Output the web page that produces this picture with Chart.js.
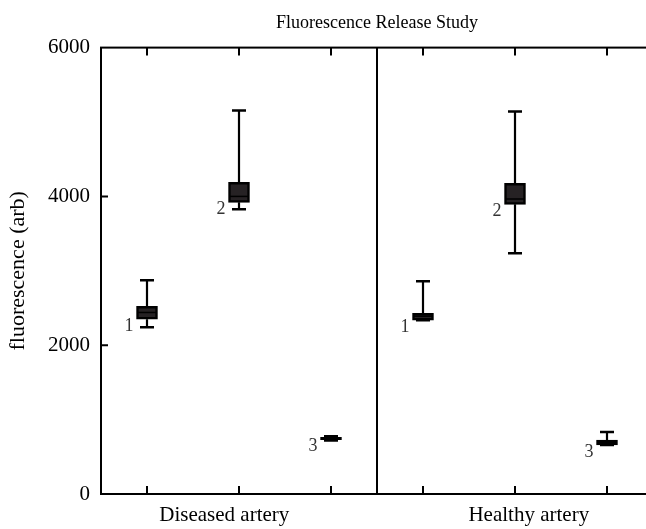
<!DOCTYPE html>
<html>
<head>
<meta charset="utf-8">
<script src="https://cdn.jsdelivr.net/npm/chart.js@4"></script>
<style>
  html, body { margin: 0; padding: 0; background: #fff; overflow: hidden; }
  #wrap { width: 660px; height: 529px; }
</style>
</head>
<body>
<div id="wrap"><canvas id="chart"></canvas></div>
<script>
// box positions on the x axis (1..3 diseased, 4..6 healthy)
const positions = [1, 2, 3, 4, 5, 6];
const boxLabels = ["1", "2", "3", "1", "2", "3"];
const groupLabels = ["Diseased artery", "Healthy artery"];
const groupLabelPos = [1.84, 5.15];
const dividerPos = 3.5;

const whiskerHigh = [2872, 5154, 775, 2859, 5141, 832];
const upperQ = [2523, 4188, 762, 2430, 4174, 725];
const medians = [2440, 4000, 745, 2390, 3965, 690];
const lowerQ = [2349, 3920, 730, 2336, 3893, 660];
const whiskerLow = [2242, 3826, 718, 2336, 3235, 660];

const yTicks = [0, 2000, 4000, 6000];

const serif = "'Liberation Serif', 'DejaVu Serif', serif";

const boxPlotExtras = {
  id: "boxPlotExtras",
  afterDatasetsDraw(chart) {
    const { ctx, chartArea: area, scales } = chart;
    const x = scales.x;
    const y = scales.y;
    ctx.save();
    ctx.strokeStyle = "#000";
    ctx.lineCap = "butt";

    positions.forEach((p, i) => {
      const px = x.getPixelForValue(p);
      const hi = y.getPixelForValue(whiskerHigh[i]);
      const q3 = y.getPixelForValue(upperQ[i]);
      const q1 = y.getPixelForValue(lowerQ[i]);
      const lo = y.getPixelForValue(whiskerLow[i]);
      const med = y.getPixelForValue(medians[i]);

      ctx.lineWidth = 2.2;
      ctx.beginPath();
      ctx.moveTo(px, hi);
      ctx.lineTo(px, q3);
      ctx.moveTo(px, q1);
      ctx.lineTo(px, lo);
      ctx.stroke();

      ctx.lineWidth = 2.5;
      ctx.beginPath();
      ctx.moveTo(px - 7, hi);
      ctx.lineTo(px + 7, hi);
      ctx.moveTo(px - 7, lo);
      ctx.lineTo(px + 7, lo);
      ctx.stroke();

      ctx.lineWidth = 1.5;
      ctx.beginPath();
      ctx.moveTo(px - 9, med);
      ctx.lineTo(px + 9, med);
      ctx.stroke();

      ctx.fillStyle = "#333";
      ctx.font = "18px " + serif;
      ctx.textAlign = "center";
      ctx.textBaseline = "middle";
      ctx.fillText(boxLabels[i], px - 18, q1 + 7);
    });

    // frame
    ctx.lineWidth = 2;
    ctx.strokeRect(area.left, area.top, area.right - area.left, area.bottom - area.top);

    // divider between groups
    const dx = x.getPixelForValue(dividerPos);
    ctx.beginPath();
    ctx.moveTo(dx, area.top);
    ctx.lineTo(dx, area.bottom);
    ctx.stroke();

    // inward ticks
    ctx.lineWidth = 2;
    ctx.beginPath();
    positions.forEach((p) => {
      const px = x.getPixelForValue(p);
      ctx.moveTo(px, area.top);
      ctx.lineTo(px, area.top + 8);
      ctx.moveTo(px, area.bottom);
      ctx.lineTo(px, area.bottom - 8);
    });
    yTicks.slice(1, -1).forEach((v) => {
      const py = y.getPixelForValue(v);
      ctx.moveTo(area.left, py);
      ctx.lineTo(area.left + 7, py);
      ctx.moveTo(area.right, py);
      ctx.lineTo(area.right - 7, py);
    });
    ctx.stroke();

    // group labels under the axis
    ctx.fillStyle = "#000";
    ctx.font = "21px " + serif;
    ctx.textAlign = "center";
    ctx.textBaseline = "middle";
    groupLabels.forEach((label, i) => {
      ctx.fillText(label, x.getPixelForValue(groupLabelPos[i]), area.bottom + 21);
    });
    ctx.restore();
  },
};

new Chart(document.getElementById("chart"), {
  type: "bar",
  data: {
    datasets: [
      {
        data: positions.map((p, i) => ({ x: p, y: [lowerQ[i], upperQ[i]] })),
        backgroundColor: "#262224",
        borderColor: "#000",
        borderWidth: 2.5,
        borderSkipped: false,
        barThickness: 21,
      },
    ],
  },
  options: {
    responsive: true,
    maintainAspectRatio: false,
    animation: false,
    layout: { padding: { left: 0, right: 7, top: 0, bottom: 35 } },
    plugins: {
      legend: { display: false },
      tooltip: { enabled: false },
      title: {
        display: true,
        text: "Fluorescence Release Study",
        fullSize: false,
        color: "#000",
        font: { family: serif, size: 18, weight: "normal" },
        padding: { top: 12, bottom: 14 },
      },
    },
    scales: {
      x: {
        type: "linear",
        min: 0.5,
        max: 6.5,
        offset: false,
        display: false,
      },
      y: {
        min: 0,
        max: 6000,
        afterFit: (scale) => {
          scale.width = 101;
        },
        grid: { display: false, drawTicks: false },
        border: { display: false },
        afterBuildTicks: (scale) => {
          scale.ticks = yTicks.map((v) => ({ value: v }));
        },
        ticks: {
          color: "#000",
          padding: 11,
          font: { family: serif, size: 21 },
          callback: (value) => String(value),
        },
        title: {
          display: true,
          text: "fluorescence (arb)",
          color: "#000",
          font: { family: serif, size: 22 },
          padding: { top: 5, bottom: 0 },
        },
      },
    },
  },
  plugins: [boxPlotExtras],
});
</script>
</body>
</html>
